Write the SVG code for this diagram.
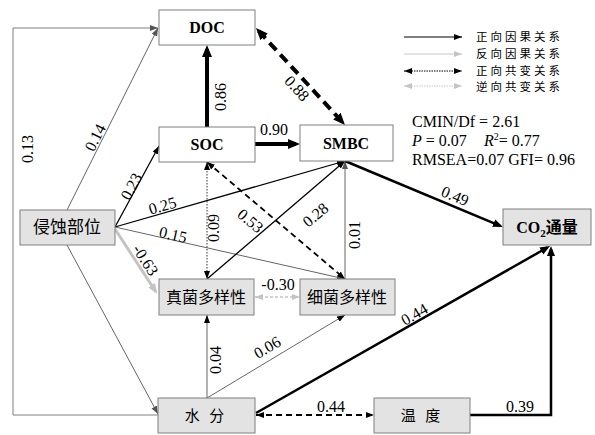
<svg xmlns="http://www.w3.org/2000/svg" width="595" height="435" viewBox="0 0 595 435">
<style>
.box{stroke:#7f7f7f;stroke-width:1}
.w{fill:#fff}
.g{fill:#e3e3e3}
.en{font-family:"Liberation Serif",serif;font-size:16px;font-weight:bold;text-anchor:middle;fill:#000}
.cn{font-family:"Noto Sans CJK SC",sans-serif;font-size:15px;text-anchor:middle;fill:#000}
.lb{font-family:"Liberation Serif",serif;font-size:16px;text-anchor:middle;fill:#000}
.st{font-family:"Liberation Serif",serif;font-size:16px;fill:#000}
.lg{font-family:"Noto Sans CJK SC",sans-serif;font-size:11.5px;letter-spacing:3px;fill:#000}
.c path,.c line,.lgd line{fill:none}
</style>
<defs>
<marker id="aS" markerUnits="userSpaceOnUse" markerWidth="9" markerHeight="7" refX="8" refY="3" orient="auto-start-reverse" viewBox="0 0 9 7"><path d="M0,0 L8,3 L0,6 z" fill="#000"/></marker>
<marker id="aG" markerUnits="userSpaceOnUse" markerWidth="9" markerHeight="7" refX="8" refY="3" orient="auto-start-reverse" viewBox="0 0 9 7"><path d="M0,0 L8,3 L0,6 z" fill="#555"/></marker>
<marker id="aLt" markerUnits="userSpaceOnUse" markerWidth="9" markerHeight="7" refX="8" refY="3" orient="auto-start-reverse" viewBox="0 0 9 7"><path d="M0,0 L8,3 L0,6 z" fill="#c4c4c4"/></marker>
<marker id="aLtM" markerUnits="userSpaceOnUse" markerWidth="11" markerHeight="9" refX="8" refY="4" orient="auto-start-reverse" viewBox="0 0 11 9"><path d="M0,0 L10,4 L0,8 z" fill="#c4c4c4"/></marker>
<marker id="aM" markerUnits="userSpaceOnUse" markerWidth="11" markerHeight="9" refX="7" refY="4" orient="auto-start-reverse" viewBox="0 0 11 9"><path d="M0,0 L10,4 L0,8 z" fill="#000"/></marker>
<marker id="aL" markerUnits="userSpaceOnUse" markerWidth="13" markerHeight="11" refX="8" refY="5" orient="auto-start-reverse" viewBox="0 0 13 11"><path d="M0,0 L12,5 L0,10 z" fill="#000"/></marker>
</defs>
<rect width="595" height="435" fill="#fff"/>

<g id="connectors" class="c">
  <path d="M158,415 H13 V28 H158" stroke="#808080" stroke-width="1" marker-end="url(#aG)"/>
  <line x1="67" y1="210" x2="158" y2="28" stroke="#555" stroke-width="0.9" marker-end="url(#aG)"/>
  <line x1="67" y1="245" x2="158" y2="414" stroke="#555" stroke-width="0.9" marker-end="url(#aG)"/>
  <line x1="115" y1="227" x2="159" y2="146" stroke="#000" stroke-width="1.3" marker-end="url(#aS)"/>
  <line x1="115" y1="227" x2="345" y2="161" stroke="#000" stroke-width="1.3" marker-end="url(#aS)"/>
  <line x1="115" y1="227" x2="345" y2="279" stroke="#555" stroke-width="0.9" marker-end="url(#aG)"/>
  <line x1="115" y1="229" x2="156" y2="292" stroke="#c4c4c4" stroke-width="3" marker-end="url(#aLtM)"/>
  <line x1="207" y1="127" x2="207" y2="49" stroke="#000" stroke-width="4" marker-end="url(#aL)"/>
  <line x1="255" y1="144" x2="296" y2="144" stroke="#000" stroke-width="4" marker-end="url(#aL)"/>
  <line x1="258.7" y1="31" x2="342.3" y2="122" stroke="#000" stroke-width="4" stroke-dasharray="10,6" marker-start="url(#aL)" marker-end="url(#aL)"/>
  <line x1="207" y1="162" x2="207" y2="279" stroke="#333" stroke-width="1" stroke-dasharray="1.5,1.5" marker-start="url(#aS)" marker-end="url(#aS)"/>
  <line x1="207" y1="279" x2="345" y2="161" stroke="#000" stroke-width="1.3" marker-end="url(#aS)"/>
  <line x1="207" y1="162" x2="345" y2="279" stroke="#000" stroke-width="1.8" stroke-dasharray="6,4" marker-start="url(#aS)" marker-end="url(#aS)"/>
  <line x1="345" y1="279" x2="345" y2="161" stroke="#666" stroke-width="1" marker-end="url(#aG)"/>
  <line x1="345" y1="161" x2="500.2" y2="225.8" stroke="#000" stroke-width="2.5" marker-end="url(#aM)"/>
  <line x1="207" y1="398" x2="207" y2="315" stroke="#555" stroke-width="0.9" marker-end="url(#aS)"/>
  <line x1="207" y1="398" x2="345" y2="315" stroke="#555" stroke-width="0.9" marker-end="url(#aS)"/>
  <line x1="255" y1="297" x2="300" y2="297" stroke="#c4c4c4" stroke-width="1.5" stroke-dasharray="3,2" marker-start="url(#aLt)" marker-end="url(#aLt)"/>
  <line x1="256" y1="413" x2="547.4" y2="247.5" stroke="#000" stroke-width="2.5" marker-end="url(#aM)"/>
  <line x1="256" y1="415" x2="374" y2="415" stroke="#000" stroke-width="2" stroke-dasharray="6,4" marker-start="url(#aS)" marker-end="url(#aS)"/>
  <path d="M470,415 H551 V249" stroke="#000" stroke-width="2.5" marker-end="url(#aM)"/>
</g>

<g id="edge-labels">
  <text class="lb" transform="translate(33,149) rotate(-90)">0.13</text>
  <text class="lb" transform="translate(100,140) rotate(-63)">0.14</text>
  <text class="lb" transform="translate(136,189) rotate(-62)">0.23</text>
  <text class="lb" transform="translate(226,97) rotate(-90)">0.86</text>
  <text class="lb" x="274" y="135">0.90</text>
  <text class="lb" transform="translate(293,92) rotate(47)">0.88</text>
  <text class="lb" transform="translate(164,211) rotate(-16)">0.25</text>
  <text class="lb" transform="translate(172,240) rotate(13)">0.15</text>
  <text class="lb" transform="translate(141,263) rotate(57)">-0.63</text>
  <text class="lb" transform="translate(219,228) rotate(-90)">0.09</text>
  <text class="lb" transform="translate(247,225) rotate(40)">0.53</text>
  <text class="lb" transform="translate(319,219) rotate(-40)">0.28</text>
  <text class="lb" transform="translate(360,235) rotate(-90)">0.01</text>
  <text class="lb" transform="translate(453,201) rotate(23)">0.49</text>
  <text class="lb" x="278" y="290">-0.30</text>
  <text class="lb" transform="translate(221,360) rotate(-90)">0.04</text>
  <text class="lb" transform="translate(270,352) rotate(-31)">0.06</text>
  <text class="lb" transform="translate(417,319) rotate(-30)">0.44</text>
  <text class="lb" x="331" y="412">0.44</text>
  <text class="lb" x="520" y="412">0.39</text>
</g>

<g id="DOC"><rect class="box w" x="159" y="10" width="96" height="35"/><text class="en" x="207" y="33">DOC</text></g>
<g id="SOC"><rect class="box w" x="159" y="127" width="96" height="35"/><text class="en" x="207" y="150">SOC</text></g>
<g id="SMBC"><rect class="box w" x="300" y="125" width="93" height="36"/><text class="en" x="346" y="149">SMBC</text></g>
<g id="erosion"><rect class="box g" x="20" y="210" width="95" height="35"/><text class="cn" x="67" y="233" style="font-size:17px">侵蚀部位</text></g>
<g id="fungi"><rect class="box g" x="159" y="279" width="95" height="36"/><text class="cn" x="206" y="303" style="font-size:16px">真菌多样性</text></g>
<g id="bacteria"><rect class="box g" x="300" y="279" width="95" height="36"/><text class="cn" x="347" y="303" style="font-size:16px">细菌多样性</text></g>
<g id="CO2"><rect class="box g" x="503" y="209" width="88" height="36"/><text class="en" x="547" y="233"><tspan>CO</tspan><tspan font-size="11" dy="4">2</tspan><tspan dy="-4" font-family="Noto Sans CJK SC, sans-serif">通量</tspan></text></g>
<g id="water"><rect class="box g" x="158" y="398" width="97" height="35"/><text class="cn" x="206" y="421" letter-spacing="3">水 分</text></g>
<g id="temp"><rect class="box g" x="374" y="398" width="96" height="35"/><text class="cn" x="422" y="421" letter-spacing="3">温 度</text></g>

<g id="legend" class="lgd">
  <line x1="404" y1="37" x2="462" y2="37" stroke="#000" stroke-width="1.2" marker-end="url(#aS)"/>
  <line x1="404" y1="54" x2="462" y2="54" stroke="#c8c8c8" stroke-width="1" marker-end="url(#aLt)"/>
  <line x1="404" y1="71" x2="462" y2="71" stroke="#000" stroke-width="1" stroke-dasharray="1.5,1" marker-start="url(#aS)" marker-end="url(#aS)"/>
  <line x1="404" y1="86" x2="462" y2="86" stroke="#c8c8c8" stroke-width="1" stroke-dasharray="1.5,1" marker-start="url(#aLt)" marker-end="url(#aLt)"/>
  <text class="lg" x="476" y="41">正向因果关系</text>
  <text class="lg" x="476" y="58">反向因果关系</text>
  <text class="lg" x="476" y="75">正向共变关系</text>
  <text class="lg" x="476" y="91">逆向共变关系</text>
</g>

<g id="stats">
  <text class="st" x="412" y="127">CMIN/Df = 2.61</text>
  <text class="st" x="412" y="146"><tspan font-style="italic">P</tspan> = 0.07<tspan x="466"> </tspan><tspan x="484" font-style="italic">R</tspan><tspan font-size="10" dy="-6">2</tspan><tspan dy="6">= 0.77</tspan></text>
  <text class="st" x="412" y="165">RMSEA=0.07 GFI= 0.96</text>
</g>
</svg>
